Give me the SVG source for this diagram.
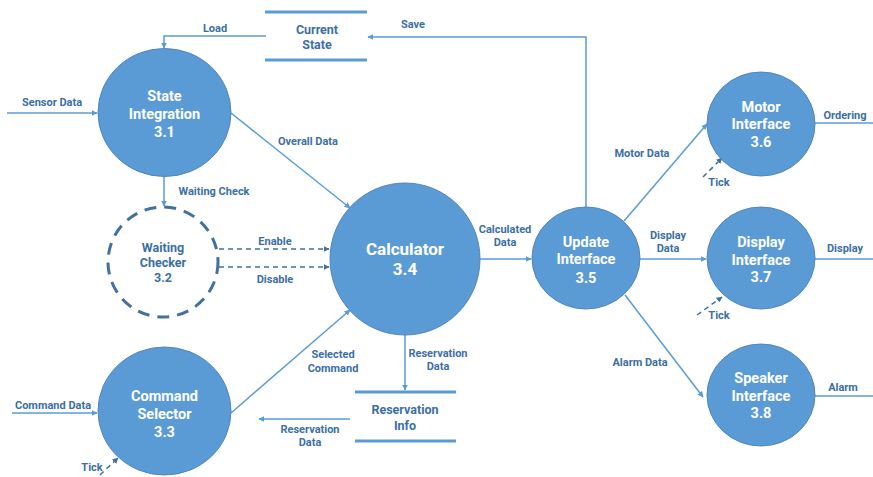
<svg xmlns="http://www.w3.org/2000/svg" width="873" height="477" viewBox="0 0 873 477">
<defs>
<marker id="ar" viewBox="0 0 10 10" refX="9" refY="5" markerWidth="6" markerHeight="6" markerUnits="userSpaceOnUse" orient="auto">
<path d="M0,0 L10,5 L0,10 z" fill="#5B9BD5"/>
</marker>
<marker id="ard" viewBox="0 0 10 10" refX="9" refY="5" markerWidth="6" markerHeight="6" markerUnits="userSpaceOnUse" orient="auto">
<path d="M0,0 L10,5 L0,10 z" fill="#41719C"/>
</marker>
</defs>
<style>
.n{fill:#5B9BD5;stroke:#4F86BF;stroke-width:1}
.nt{fill:#fff;font-family:Roboto,"Liberation Sans",sans-serif;font-weight:bold;font-size:14.5px;text-anchor:middle}
.l{fill:none;stroke:#5B9BD5;stroke-width:1.5}
.d{fill:none;stroke:#41719C;stroke-width:1.5;stroke-dasharray:5 4}
.lb{fill:#3B6FA6;font-family:Roboto,"Liberation Sans",sans-serif;font-weight:bold;font-size:11px;text-anchor:middle}
.st{stroke:#5B9BD5;stroke-width:3}
.stt{fill:#3B6FA6;font-family:Roboto,"Liberation Sans",sans-serif;font-weight:bold;font-size:12.5px;text-anchor:middle}
</style>
<rect width="873" height="477" fill="#fff"/>
<g id="connectors">
<path class="l" d="M266,36 H164 V48" marker-end="url(#ar)"/>
<text class="lb" x="215" y="32">Load</text>
<path class="l" d="M586,207 V37 H368" marker-end="url(#ar)"/>
<text class="lb" x="413" y="28">Save</text>
<path class="l" d="M7,113 H97" marker-end="url(#ar)"/>
<text class="lb" x="52" y="106">Sensor Data</text>
<path class="l" d="M164,176 V206" marker-end="url(#ar)"/>
<text class="lb" x="214" y="195">Waiting Check</text>
<path class="l" d="M231,113 L350,208" marker-end="url(#ar)"/>
<text class="lb" x="308" y="145">Overall Data</text>
<path class="d" d="M219,249 H329" marker-end="url(#ard)"/>
<text class="lb" x="275" y="245">Enable</text>
<path class="d" d="M219,267 H329" marker-end="url(#ard)"/>
<text class="lb" x="275" y="283">Disable</text>
<path class="l" d="M480,259 H531" marker-end="url(#ar)"/>
<text class="lb" x="505" y="233">Calculated</text>
<text class="lb" x="505" y="246">Data</text>
<path class="l" d="M231,413 L350,310" marker-end="url(#ar)"/>
<text class="lb" x="333" y="358">Selected</text>
<text class="lb" x="333" y="372">Command</text>
<path class="l" d="M405,335 V390" marker-end="url(#ar)"/>
<text class="lb" x="438" y="357">Reservation</text>
<text class="lb" x="438" y="370">Data</text>
<path class="l" d="M350,419 H259" marker-end="url(#ar)"/>
<text class="lb" x="310" y="433">Reservation</text>
<text class="lb" x="310" y="446">Data</text>
<path class="l" d="M12,413 H97" marker-end="url(#ar)"/>
<text class="lb" x="53" y="409">Command Data</text>
<path class="d" d="M100,475 L118,458" marker-end="url(#ard)"/>
<text class="lb" x="92" y="471">Tick</text>
<path class="l" d="M624,221 L707,124" marker-end="url(#ar)"/>
<text class="lb" x="642" y="157">Motor Data</text>
<path class="d" d="M703,177 L722,158" marker-end="url(#ard)"/>
<text class="lb" x="719" y="186">Tick</text>
<path class="l" d="M815,123 H873"/>
<text class="lb" x="845" y="119">Ordering</text>
<path class="l" d="M640,259 H706" marker-end="url(#ar)"/>
<text class="lb" x="668" y="239">Display</text>
<text class="lb" x="668" y="252">Data</text>
<path class="d" d="M697,315 L722,297" marker-end="url(#ard)"/>
<text class="lb" x="719" y="319">Tick</text>
<path class="l" d="M815,259 H873"/>
<text class="lb" x="845" y="252">Display</text>
<path class="l" d="M625,295 L703,397" marker-end="url(#ar)"/>
<text class="lb" x="640" y="366">Alarm Data</text>
<path class="l" d="M815,396 H873"/>
<text class="lb" x="843" y="391">Alarm</text>
</g>
<g id="current-state">
<line class="st" x1="265" y1="12" x2="367" y2="12"/>
<line class="st" x1="265" y1="60" x2="367" y2="60"/>
<text class="stt" x="317" y="34">Current</text>
<text class="stt" x="317" y="49">State</text>
</g>
<g id="reservation-info">
<line class="st" x1="355" y1="392" x2="456" y2="392"/>
<line class="st" x1="355" y1="441" x2="456" y2="441"/>
<text class="stt" x="405" y="414">Reservation</text>
<text class="stt" x="405" y="430">Info</text>
</g>
<g id="n31">
<ellipse class="n" cx="164.5" cy="112.5" rx="66.5" ry="64"/>
<text class="nt" x="164.5" y="101">State</text>
<text class="nt" x="164.5" y="119">Integration</text>
<text class="nt" x="164.5" y="137">3.1</text>
</g>
<g id="n32">
<circle cx="163" cy="262" r="55" fill="none" stroke="#41719C" stroke-width="3" stroke-dasharray="12 8"/>
<text class="stt" x="163" y="252">Waiting</text>
<text class="stt" x="163" y="267">Checker</text>
<text class="stt" x="163" y="282">3.2</text>
</g>
<g id="n33">
<ellipse class="n" cx="164.5" cy="411" rx="66.5" ry="64"/>
<text class="nt" x="164.5" y="401">Command</text>
<text class="nt" x="164.5" y="419">Selector</text>
<text class="nt" x="164.5" y="437">3.3</text>
</g>
<g id="n34">
<ellipse class="n" cx="405" cy="259" rx="75" ry="76"/>
<text class="nt" x="405" y="255" style="font-size:17px">Calculator</text>
<text class="nt" x="405" y="275" style="font-size:17px">3.4</text>
</g>
<g id="n35">
<ellipse class="n" cx="586" cy="258" rx="54" ry="51"/>
<text class="nt" x="586" y="247">Update</text>
<text class="nt" x="586" y="264">Interface</text>
<text class="nt" x="586" y="283">3.5</text>
</g>
<g id="n36">
<ellipse class="n" cx="761" cy="124" rx="54" ry="52"/>
<text class="nt" x="761" y="112">Motor</text>
<text class="nt" x="761" y="129">Interface</text>
<text class="nt" x="761" y="147">3.6</text>
</g>
<g id="n37">
<ellipse class="n" cx="761" cy="258" rx="54" ry="51"/>
<text class="nt" x="761" y="247">Display</text>
<text class="nt" x="761" y="265">Interface</text>
<text class="nt" x="761" y="282">3.7</text>
</g>
<g id="n38">
<ellipse class="n" cx="761" cy="395" rx="54" ry="51"/>
<text class="nt" x="761" y="383">Speaker</text>
<text class="nt" x="761" y="401">Interface</text>
<text class="nt" x="761" y="418">3.8</text>
</g>
</svg>
